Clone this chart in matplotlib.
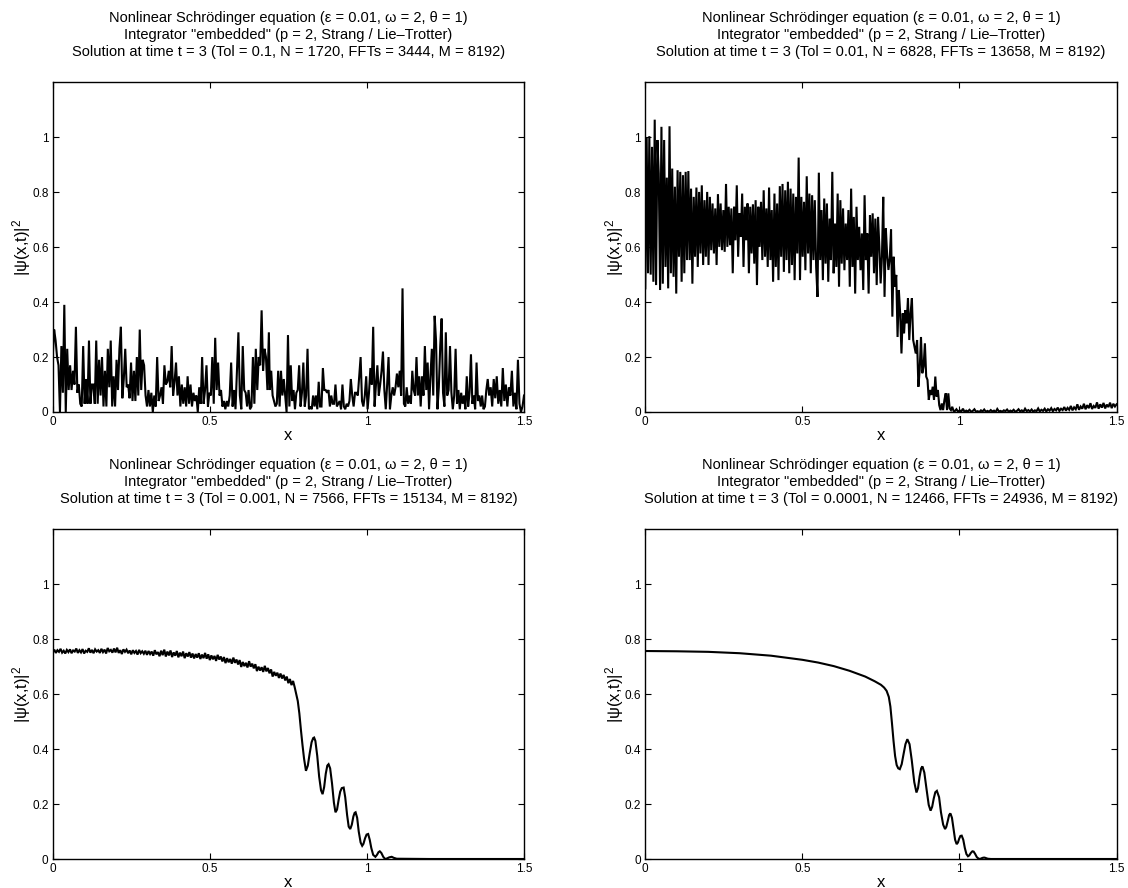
import numpy as np
import matplotlib
matplotlib.use("Agg")
import matplotlib.pyplot as plt
from matplotlib.ticker import FuncFormatter

plt.rcParams['font.family'] = ['Liberation Sans', 'DejaVu Sans']
plt.rcParams['mathtext.fontset'] = 'custom'
plt.rcParams['mathtext.rm'] = 'Liberation Sans'
plt.rcParams['mathtext.it'] = 'Liberation Sans'

# ---------------- data ----------------
tols = ["0.1", "0.01", "0.001", "0.0001"]
n_steps = [1720, 6828, 7566, 12466]
n_ffts = [3444, 13658, 15134, 24936]
m_modes = 8192

x_ticks = [0, 0.5, 1, 1.5]
y_ticks = [0, 0.2, 0.4, 0.6, 0.8, 1]

# Panel 1 (Tol = 0.1): noisy, three segments
p1_seg_a = [0.20, 0.30, 0.26, 0.20, 0.17, 0.00, 0.24, 0.07, 0.39, 0.00, 0.23, 0.08, 0.17, 0.08, 0.15, 0.10,
            0.31, 0.07, 0.10, 0.03, 0.02, 0.24, 0.03, 0.12, 0.03, 0.26, 0.03, 0.10, 0.10, 0.03, 0.26, 0.03,
            0.19, 0.06, 0.20, 0.02, 0.15, 0.02, 0.23, 0.09, 0.26, 0.02, 0.13, 0.02, 0.19, 0.08, 0.23, 0.31,
            0.05, 0.12, 0.23, 0.09, 0.10, 0.05, 0.18, 0.04, 0.15, 0.04, 0.20, 0.06, 0.30, 0.08, 0.19, 0.17,
            0.06, 0.02, 0.08, 0.02, 0.07, 0.00, 0.06, 0.02, 0.20, 0.04, 0.06, 0.09, 0.03, 0.17, 0.10, 0.11,
            0.15, 0.09, 0.24, 0.06, 0.11, 0.18, 0.06, 0.13, 0.02, 0.10, 0.03, 0.09, 0.02, 0.13, 0.03, 0.10,
            0.02, 0.07, 0.04, 0.06, 0.00, 0.09, 0.03, 0.20, 0.03, 0.08, 0.17, 0.02, 0.07, 0.06, 0.20, 0.03,
            0.27, 0.08, 0.18, 0.06, 0.08, 0.02, 0.04, 0.01, 0.04, 0.02, 0.06, 0.18, 0.02, 0.08, 0.01, 0.15,
            0.29, 0.06, 0.01, 0.24, 0.08, 0.07, 0.02, 0.08, 0.01, 0.02, 0.20, 0.03, 0.23, 0.08, 0.20, 0.17,
            0.37, 0.15, 0.23, 0.20, 0.08, 0.29]
p1_seg_a_range = (0.0, 0.688)
p1_seg_b = [0.08, 0.15, 0.06, 0.04, 0.02, 0.03, 0.15, 0.02, 0.15, 0.06, 0.12, 0.06, 0.00, 0.28, 0.02, 0.17,
            0.04, 0.08, 0.01, 0.07, 0.08, 0.17, 0.02, 0.07, 0.18, 0.02, 0.06, 0.23, 0.01, 0.02, 0.01, 0.06,
            0.02, 0.06, 0.01, 0.11, 0.02, 0.02, 0.16, 0.08, 0.08, 0.07, 0.08, 0.02, 0.06, 0.03, 0.03, 0.10,
            0.02, 0.03, 0.04, 0.01, 0.10, 0.02, 0.01, 0.03, 0.02, 0.04, 0.12, 0.06, 0.02, 0.07, 0.07, 0.06,
            0.13, 0.20, 0.04, 0.02, 0.06, 0.13, 0.01, 0.07, 0.16, 0.10, 0.31, 0.02, 0.10, 0.17, 0.06, 0.10,
            0.15, 0.22, 0.08, 0.01, 0.10, 0.20, 0.01, 0.06, 0.09, 0.06, 0.09, 0.14, 0.09, 0.15, 0.06, 0.45,
            0.03, 0.02, 0.09, 0.03, 0.06, 0.03, 0.15, 0.08, 0.06, 0.20, 0.06, 0.13, 0.02, 0.13, 0.06, 0.24,
            0.08, 0.18, 0.01, 0.13, 0.23, 0.06, 0.35, 0.26, 0.01, 0.09, 0.24, 0.34, 0.07, 0.02, 0.29, 0.06,
            0.08, 0.24, 0.07, 0.01, 0.06, 0.23, 0.03, 0.08, 0.01, 0.07, 0.03, 0.06, 0.01, 0.13, 0.02, 0.07,
            0.21, 0.03, 0.06, 0.01, 0.18, 0.04, 0.06, 0.02, 0.06, 0.01, 0.02, 0.08, 0.12, 0.06]
p1_seg_b_range = (0.691, 1.389)
p1_seg_c = [0.09, 0.02, 0.12, 0.05, 0.13, 0.03, 0.08, 0.02, 0.16, 0.04, 0.10, 0.02, 0.09, 0.06, 0.15, 0.02,
            0.07, 0.01, 0.19, 0.03, 0.00, 0.02, 0.06]
p1_seg_c_range = (1.394, 1.5)

# Panel 2 (Tol = 0.01): noisy plateau, drop, tail
p2_seg_a = [0.45, 1.00, 0.505, 1.004, 0.50, 0.965, 0.474, 1.064, 0.462, 0.99, 0.868, 0.444, 1.038, 0.467,
            0.99, 0.528, 0.853, 0.45, 1.04, 0.505, 0.886, 0.492, 0.82, 0.431, 0.88, 0.565, 0.874, 0.474,
            0.862, 0.505, 0.874, 0.553, 0.877, 0.553, 0.813, 0.467, 0.783, 0.565, 0.817, 0.528, 0.801,
            0.577, 0.825, 0.535, 0.771, 0.565, 0.801, 0.535, 0.783, 0.589, 0.759, 0.577, 0.741, 0.535,
            0.793, 0.601, 0.759, 0.589, 0.735, 0.583, 0.83, 0.601, 0.747, 0.607, 0.741, 0.505, 0.747,
            0.625, 0.825, 0.565, 0.723, 0.637, 0.795, 0.528, 0.747, 0.625, 0.759, 0.505, 0.747, 0.577,
            0.756, 0.54, 0.771, 0.462, 0.747, 0.601, 0.765, 0.553, 0.807, 0.565, 0.741, 0.528, 0.817,
            0.553, 0.735, 0.474, 0.795, 0.528, 0.759, 0.48, 0.822, 0.565, 0.83, 0.51, 0.807, 0.553, 0.838,
            0.505, 0.813, 0.535, 0.795, 0.48, 0.783, 0.577, 0.926, 0.48, 0.783, 0.565, 0.765, 0.516, 0.858,
            0.577, 0.795, 0.505, 0.789, 0.553, 0.771, 0.528, 0.419, 0.871, 0.553, 0.735, 0.48, 0.777, 0.54,
            0.759, 0.474, 0.704, 0.553, 0.874, 0.505, 0.686, 0.528, 0.795, 0.456, 0.771, 0.54, 0.741,
            0.516, 0.686, 0.553, 0.735, 0.456, 0.813, 0.528, 0.71, 0.431, 0.747, 0.553, 0.674, 0.516,
            0.65, 0.444, 0.789, 0.553, 0.65, 0.431, 0.716, 0.565, 0.723, 0.505, 0.704, 0.462, 0.71, 0.601]
p2_seg_a_range = (0.0, 0.745)
p2_seg_b = [0.468, 0.565, 0.783, 0.419, 0.668, 0.571, 0.517, 0.559, 0.664, 0.347, 0.565, 0.456, 0.499,
            0.273, 0.444, 0.359, 0.213, 0.359, 0.286, 0.371, 0.323, 0.414, 0.262, 0.359, 0.414, 0.262,
            0.238, 0.213, 0.262, 0.092, 0.153, 0.273, 0.141, 0.165, 0.250, 0.129, 0.117, 0.044, 0.080,
            0.062, 0.092, 0.044, 0.129, 0.056, 0.080, 0.025, 0.007, 0.031, 0.007, 0.044, 0.068, 0.007,
            0.068, 0.013, 0.007, 0.019, 0.004]
p2_seg_b_range = (0.749, 0.981)
p2_seg_c = [0.003, 0.010, 0.001, 0.006, 0.002, 0.012, 0.000, 0.005, 0.002, 0.008,
            0.001, 0.004, 0.010, 0.001, 0.003, 0.000, 0.006, 0.002, 0.009, 0.001,
            0.004, 0.001, 0.007, 0.002, 0.005, 0.000, 0.011, 0.002, 0.004, 0.001,
            0.006, 0.003, 0.009, 0.001, 0.005, 0.002, 0.008, 0.001, 0.004, 0.010,
            0.002, 0.006, 0.001, 0.012, 0.003, 0.007, 0.002, 0.009, 0.001, 0.006,
            0.003, 0.013, 0.002, 0.008, 0.004, 0.012, 0.002, 0.010, 0.005, 0.014,
            0.003, 0.011, 0.006, 0.016, 0.004, 0.012, 0.007, 0.018, 0.005, 0.015,
            0.008, 0.022, 0.006, 0.017, 0.010, 0.028, 0.008, 0.020, 0.012, 0.030,
            0.010, 0.025, 0.014, 0.032, 0.011, 0.022, 0.015, 0.035, 0.012, 0.028,
            0.016, 0.033, 0.013, 0.027, 0.018, 0.034, 0.014, 0.030, 0.020, 0.028]
p2_seg_c_range = (0.985, 1.5)

# Panel 3 (Tol = 0.001): slightly noisy plateau + oscillating front
p3_plateau = [0.752, 0.762, 0.750, 0.760, 0.754, 0.765, 0.751, 0.758, 0.748, 0.761,
              0.753, 0.763, 0.749, 0.759, 0.755, 0.766, 0.750, 0.760, 0.752, 0.764,
              0.748, 0.758, 0.754, 0.767, 0.751, 0.761, 0.749, 0.763, 0.755, 0.760,
              0.750, 0.765, 0.753, 0.762, 0.748, 0.768, 0.756, 0.761, 0.751, 0.766,
              0.752, 0.769, 0.750, 0.760, 0.746, 0.763, 0.754, 0.762, 0.749, 0.759,
              0.745, 0.760, 0.750, 0.757, 0.744, 0.761, 0.749, 0.756, 0.747, 0.758,
              0.743, 0.757, 0.746, 0.755, 0.740, 0.760, 0.745, 0.753, 0.738, 0.758,
              0.742, 0.762, 0.737, 0.755, 0.741, 0.759, 0.735, 0.752, 0.740, 0.757,
              0.734, 0.751, 0.738, 0.755, 0.731, 0.749, 0.737, 0.753, 0.733, 0.748,
              0.730, 0.746, 0.733, 0.749, 0.728, 0.744, 0.731, 0.750, 0.729, 0.745,
              0.724, 0.741, 0.727, 0.739, 0.721, 0.743, 0.726, 0.737, 0.719, 0.735,
              0.713, 0.731, 0.716, 0.728, 0.711, 0.733, 0.714, 0.726, 0.708, 0.724,
              0.699, 0.717, 0.702, 0.714, 0.697, 0.720, 0.700, 0.711, 0.694, 0.709,
              0.684, 0.700, 0.686, 0.698, 0.681, 0.703, 0.683, 0.695, 0.676, 0.690,
              0.664, 0.681, 0.667, 0.678, 0.659, 0.675, 0.657, 0.670, 0.650, 0.664,
              0.640, 0.655, 0.633, 0.648, 0.626]
p3_plateau_range = (0.0, 0.77)
p3_front_x = [0.775, 0.78, 0.785, 0.79, 0.795, 0.80, 0.806, 0.812, 0.818, 0.824, 0.829, 0.832, 0.836,
              0.842, 0.848, 0.854, 0.859, 0.864, 0.869, 0.874, 0.878, 0.883, 0.889, 0.895, 0.900, 0.905,
              0.910, 0.915, 0.920, 0.926, 0.931, 0.937, 0.942, 0.947, 0.952, 0.957, 0.961, 0.964, 0.969,
              0.974, 0.980, 0.985, 0.989, 0.994, 0.999, 1.004, 1.009, 1.014, 1.020, 1.027, 1.032, 1.037,
              1.041, 1.046, 1.052, 1.058, 1.064, 1.071, 1.079, 1.086, 1.095, 1.2, 1.3, 1.4, 1.5]
p3_front_y = [0.600, 0.575, 0.530, 0.470, 0.415, 0.365, 0.321, 0.340, 0.385, 0.425, 0.440, 0.442, 0.430,
              0.375, 0.300, 0.250, 0.236, 0.262, 0.310, 0.340, 0.345, 0.330, 0.275, 0.205, 0.170, 0.180,
              0.215, 0.245, 0.258, 0.260, 0.225, 0.160, 0.118, 0.109, 0.125, 0.155, 0.168, 0.170, 0.150,
              0.100, 0.060, 0.048, 0.055, 0.075, 0.089, 0.091, 0.070, 0.040, 0.015, 0.008, 0.015, 0.025,
              0.028, 0.022, 0.008, 0.000, 0.002, 0.006, 0.008, 0.004, 0.001, 0.0, 0.0, 0.0, 0.0]

# Panel 4 (Tol = 0.0001): smooth solution
p4_x = [0, 0.1, 0.2, 0.3, 0.4, 0.5, 0.55, 0.6, 0.65, 0.7, 0.73, 0.75, 0.76, 0.768, 0.775, 0.78, 0.785,
        0.79, 0.795, 0.80, 0.805, 0.81, 0.816, 0.822, 0.828, 0.834, 0.841, 0.848, 0.856, 0.863, 0.868,
        0.873, 0.878, 0.882, 0.888, 0.895, 0.902, 0.908, 0.913, 0.918, 0.923, 0.928, 0.935, 0.941, 0.948,
        0.954, 0.958, 0.963, 0.967, 0.971, 0.976, 0.981, 0.986, 0.991, 0.995, 0.999, 1.003, 1.007, 1.012,
        1.017, 1.022, 1.027, 1.031, 1.036, 1.041, 1.045, 1.05, 1.055, 1.06, 1.065, 1.069, 1.073, 1.077,
        1.08, 1.085, 1.09, 1.1, 1.2, 1.3, 1.4, 1.5]
p4_y = [0.757, 0.756, 0.754, 0.749, 0.740, 0.725, 0.715, 0.702, 0.685, 0.664, 0.647, 0.634, 0.624, 0.612,
        0.590, 0.555, 0.495, 0.430, 0.375, 0.342, 0.330, 0.327, 0.345, 0.382, 0.418, 0.436, 0.418, 0.36,
        0.28, 0.242, 0.258, 0.30, 0.33, 0.337, 0.315, 0.255, 0.197, 0.176, 0.19, 0.22, 0.243, 0.248, 0.225,
        0.17, 0.125, 0.109, 0.117, 0.14, 0.16, 0.166, 0.15, 0.11, 0.07, 0.054, 0.06, 0.074, 0.084, 0.085,
        0.07, 0.04, 0.018, 0.010, 0.013, 0.022, 0.028, 0.027, 0.018, 0.007, 0.002, 0.0, 0.002, 0.004,
        0.005, 0.005, 0.003, 0.001, 0.0, 0.0, 0.0, 0.0, 0.0]


def seg(vals, rng):
    return np.linspace(rng[0], rng[1], len(vals)), np.asarray(vals)


def join(*parts):
    xs = np.concatenate([p[0] for p in parts])
    ys = np.concatenate([p[1] for p in parts])
    return xs, ys


curves = [
    join(seg(p1_seg_a, p1_seg_a_range), seg(p1_seg_b, p1_seg_b_range), seg(p1_seg_c, p1_seg_c_range)),
    join(seg(p2_seg_a, p2_seg_a_range), seg(p2_seg_b, p2_seg_b_range), seg(p2_seg_c, p2_seg_c_range)),
    join(seg(p3_plateau, p3_plateau_range), (np.asarray(p3_front_x), np.asarray(p3_front_y))),
    (np.asarray(p4_x), np.asarray(p4_y)),
]

# ---------------- figure ----------------
W, H = 1128, 888
fig = plt.figure(figsize=(W / 100, H / 100), dpi=100)

lefts = [52.7, 645.3, 52.7, 645.3]
tops = [82.3, 82.3, 529.3, 529.3]
aw, ah = 471.3, 329.7

fmt = FuncFormatter(lambda v, p: ("%g" % v))

for i in range(4):
    ax = fig.add_axes([lefts[i] / W, 1 - (tops[i] + ah) / H, aw / W, ah / H])
    xs, ys = curves[i]
    n = min(len(xs), len(ys))
    ax.plot(xs[:n], ys[:n], color='black', lw=1.5, solid_joinstyle='miter')
    ax.set_xlim(0, 1.5)
    ax.set_ylim(0, 1.2)
    ax.set_xticks(x_ticks)
    ax.set_yticks(y_ticks)
    ax.xaxis.set_major_formatter(fmt)
    ax.yaxis.set_major_formatter(fmt)
    ax.tick_params(direction='in', length=4, width=0.8, top=True, right=True,
                   labelsize=8.5, colors='black', pad=3)
    for s in ax.spines.values():
        s.set_linewidth(1.0)
    ax.set_xlabel('x', fontsize=12, labelpad=0)
    ax.set_ylabel('|ψ(x,t)|$^2$', fontsize=12)
    ax.yaxis.set_label_coords(-0.041, 0.5)
    title = ('Nonlinear Schrödinger equation (ε = 0.01, ω = 2, θ = 1)\n'
             'Integrator "embedded" (p = 2, Strang / Lie–Trotter)\n'
             'Solution at time t = 3 (Tol = %s, N = %d, FFTs = %d, M = %d)'
             % (tols[i], n_steps[i], n_ffts[i], m_modes))
    ax.set_title(title, fontsize=10.5, linespacing=1.28, pad=19)

fig.savefig('out.png', dpi=100)
